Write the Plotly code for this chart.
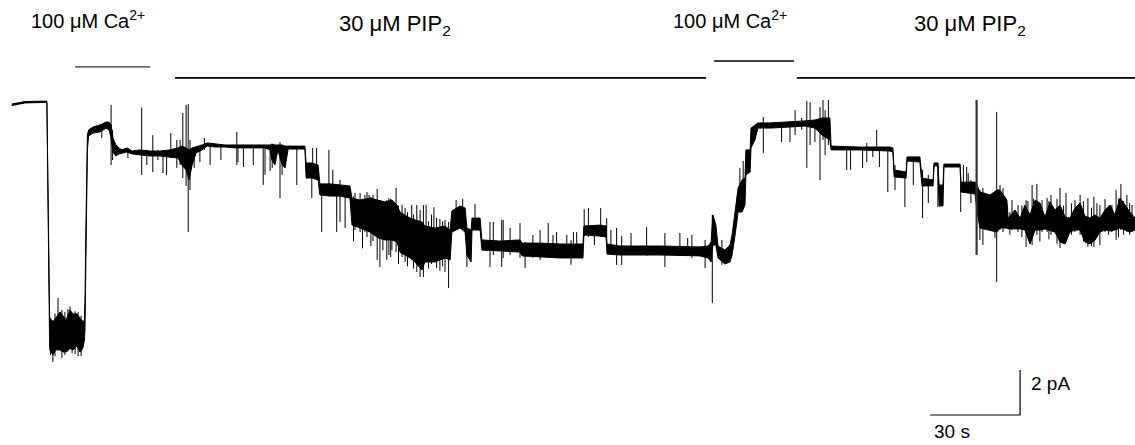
import plotly.graph_objects as go

# ---------------- data: current trace (time in s, current in pA) ----------------
# envelope of the recorded trace (upper / lower edge of the noisy band)
env_t = [0.6, 3.3, 5.0, 12.0, 12.3, 13.2, 13.3, 14.3, 15.3, 16.7, 17.7, 18.7, 20.0, 21.0, 22.3, 23.3,
         24.3, 24.8, 25.0, 25.3, 25.8, 26.2, 27.7, 30.0, 32.0, 33.0, 33.7, 34.3, 35.3, 36.3, 37.3, 39.0,
         40.7, 43.3, 46.7, 50.0, 53.3, 56.0, 57.3, 58.7, 59.7, 60.7, 62.0, 64.0, 65.7, 68.3, 71.7, 75.0,
         78.3, 85.0, 86.7, 87.3, 88.3, 89.3, 90.7, 91.7, 92.7, 98.3, 98.7, 100.7, 102.7, 103.3, 106.7,
         110.0, 113.3, 114.0, 116.7, 120.0, 122.7, 125.0, 127.3, 129.0, 130.0, 133.3, 135.0, 137.3,
         138.3, 141.7, 145.0, 146.7, 147.3, 150.0, 151.7, 152.3, 153.7, 154.0, 156.7, 157.3, 163.3,
         170.0, 170.7, 176.7, 183.3, 191.0, 191.3, 196.7, 198.7, 199.0, 203.3, 216.7, 230.0, 232.7,
         233.7, 234.3, 235.3, 236.0, 238.3, 240.0, 240.7, 241.7, 242.7, 244.0, 245.0, 245.3, 246.7,
         247.0, 248.3, 249.3, 253.3, 260.0, 265.0, 268.3, 270.7, 273.3, 273.7, 283.3, 293.3, 294.3,
         294.7, 298.7, 299.0, 303.3, 304.0, 307.7, 308.0, 309.3, 309.7, 311.0, 311.3, 316.7, 317.0,
         321.7, 322.3, 323.3, 326.7, 329.0, 330.0, 332.3, 332.7, 335.0, 336.7, 338.3, 340.0, 341.7,
         343.3, 345.0, 346.7, 348.3, 350.0, 351.7, 353.3, 355.0, 356.7, 358.3, 360.0, 361.7, 363.3,
         365.0, 366.7, 368.3, 370.0, 371.7, 373.3, 375.0]
env_hi = [-0.09, -0.02, 0.02, 0.04, 0.04, -9.47, -9.6, -9.78, -9.6, -9.33, -9.51, -9.69, -9.24, -9.42,
          -9.42, -9.6, -9.78, -9.69, -8.8, -5.6, -1.47, -1.24, -1.11, -1.02, -0.89, -0.89, -1.02, -1.6,
          -1.91, -2.04, -2.13, -2.04, -2.18, -2.13, -2.18, -2.18, -2.13, -2.04, -1.96, -2.04, -2.13,
          -2.04, -2.0, -1.91, -1.82, -1.87, -1.91, -1.91, -1.91, -1.91, -1.91, -1.87, -1.91, -1.91,
          -1.91, -1.96, -1.96, -1.96, -2.71, -2.71, -2.8, -3.64, -3.64, -3.69, -3.73, -4.27, -4.36,
          -4.27, -4.36, -4.44, -4.36, -4.58, -4.89, -5.16, -5.24, -5.33, -5.51, -5.6, -5.51, -5.69,
          -4.84, -4.62, -4.71, -5.6, -5.69, -5.16, -5.16, -6.13, -6.18, -6.13, -6.27, -6.27, -6.31,
          -6.31, -5.51, -5.47, -5.51, -6.31, -6.4, -6.4, -6.44, -6.4, -6.22, -5.02, -5.47, -6.4, -6.58,
          -6.36, -5.91, -4.89, -3.82, -3.47, -3.38, -2.13, -2.13, -1.16, -1.02, -0.93, -0.93, -0.89,
          -0.84, -0.8, -0.71, -0.71, -1.96, -2.0, -2.0, -2.04, -3.02, -3.11, -2.44, -2.44, -3.38,
          -3.47, -2.71, -2.71, -3.69, -3.69, -2.76, -2.76, -3.56, -3.56, -3.69, -4.0, -4.13, -3.91,
          -3.91, -4.36, -5.16, -4.8, -5.16, -4.58, -5.02, -4.36, -4.49, -5.11, -4.44, -4.8, -4.58,
          -5.11, -5.16, -4.71, -4.49, -5.07, -5.16, -5.02, -5.16, -4.8, -4.58, -5.02, -4.27, -4.58,
          -4.89, -5.16]
env_lo = [-0.16, -0.09, -0.04, -0.02, -0.04, -10.8, -11.02, -11.24, -11.02, -11.02, -11.11, -11.11,
          -10.93, -11.02, -10.84, -11.11, -10.93, -10.58, -10.13, -7.02, -2.13, -1.51, -1.38, -1.33,
          -1.16, -1.24, -1.6, -2.22, -2.4, -2.31, -2.27, -2.22, -2.31, -2.36, -2.4, -2.4, -2.44, -2.49,
          -2.8, -3.02, -3.47, -2.8, -2.27, -2.13, -1.96, -2.0, -2.0, -2.04, -2.04, -2.04, -2.13, -2.58,
          -2.8, -2.13, -2.8, -2.93, -2.09, -2.09, -3.38, -3.38, -3.47, -4.13, -4.18, -4.18, -4.27,
          -5.47, -5.6, -5.78, -6.04, -6.13, -6.13, -6.22, -6.67, -6.93, -7.11, -7.47, -7.11, -7.11,
          -6.93, -7.02, -5.78, -5.6, -5.78, -6.8, -7.11, -5.69, -5.69, -6.58, -6.62, -6.67, -6.84,
          -6.89, -6.93, -6.93, -5.91, -5.96, -6.0, -6.76, -6.8, -6.8, -6.84, -6.93, -7.11, -6.36,
          -6.36, -6.93, -7.2, -7.11, -6.8, -5.91, -4.89, -4.89, -4.58, -3.24, -3.11, -2.04, -1.69,
          -1.16, -1.16, -1.11, -1.07, -1.16, -1.47, -1.69, -2.13, -2.13, -2.18, -2.22, -3.33, -3.38,
          -2.62, -2.67, -3.73, -3.73, -2.84, -2.84, -4.62, -4.62, -2.89, -2.89, -4.0, -4.09, -4.8,
          -5.6, -5.69, -5.78, -5.6, -5.6, -5.64, -5.64, -5.64, -5.69, -6.31, -5.69, -5.69, -5.64,
          -5.73, -5.78, -6.22, -6.31, -5.78, -5.69, -5.69, -6.22, -6.31, -6.13, -5.78, -5.69, -5.73,
          -5.69, -5.6, -5.69, -5.78, -5.69]

# brief channel openings / closings (vertical excursions) on top of the band
spike_t = [13.5, 14.3, 15.0, 16.0, 17.3, 18.3, 19.3, 20.0, 20.7, 21.7, 22.7, 23.7, 24.0, 30.6, 33.7,
           34.2, 39.3, 43.9, 45.6, 47.6, 49.3, 51.0, 52.2, 53.6, 55.6, 56.7, 57.6, 58.7, 59.4, 60.0,
           61.4, 63.3, 64.8, 66.7, 70.3, 75.6, 76.0, 77.8, 81.1, 84.4, 85.0, 86.7, 87.4, 90.0, 90.7,
           95.6, 100.6, 100.9, 102.2, 103.9, 106.3, 107.6, 108.9, 110.0, 111.7, 114.5, 115.0, 116.7,
           117.5, 118.3, 119.0, 119.7, 120.3, 121.0, 122.4, 123.3, 124.3, 125.6, 126.3, 126.9, 127.3,
           128.7, 129.5, 130.7, 131.7, 132.5, 133.9, 134.5, 135.6, 136.7, 137.8, 138.7, 139.5, 140.5,
           141.3, 142.2, 143.3, 144.2, 145.0, 146.2, 148.7, 150.9, 152.3, 155.0, 160.0, 161.1, 163.9,
           164.4, 166.7, 170.0, 171.7, 174.3, 176.7, 179.4, 181.0, 182.2, 185.6, 187.0, 187.8, 188.9,
           191.4, 192.8, 194.8, 196.9, 198.9, 200.3, 202.2, 203.9, 207.0, 212.2, 218.3, 223.3, 225.9,
           227.3, 231.7, 234.1, 237.3, 243.3, 244.4, 251.1, 257.2, 260.0, 261.7, 263.9, 265.6, 266.7,
           268.3, 270.0, 271.0, 271.7, 272.8, 278.9, 280.2, 284.2, 285.6, 287.6, 288.9, 289.8, 292.6,
           295.0, 298.3, 301.1, 304.2, 306.1, 309.3, 316.9, 317.8, 318.9, 319.4, 320.3, 323.3, 324.3,
           328.3, 328.9, 330.0, 331.0, 333.3, 334.0, 336.0, 337.3, 338.7, 339.3, 340.7, 341.2, 342.3,
           343.3, 344.0, 345.7, 346.3, 347.0, 349.0, 350.0, 351.2, 352.0, 353.8, 355.0, 356.7, 357.8,
           359.3, 360.5, 361.3, 362.3, 363.3, 365.0, 366.2, 367.3, 368.7, 369.5, 370.3, 371.2, 372.3,
           373.2, 374.0]
spike_hi = [-9.6, -9.69, -9.4, -8.71, -9.24, -9.33, -9.2, -9.09, -9.42, -9.3, -9.33, -9.5, -9.69,
            -1.02, -0.13, -1.24, -2.04, -0.25, -2.13, -1.47, -2.13, -2.13, -2.13, -1.38, -1.69, -1.69,
            -0.49, -0.13, -0.09, -1.69, -2.0, -2.0, -1.6, -1.87, -1.87, -1.33, -1.91, -1.91, -1.91,
            -1.91, -2.04, -1.91, -1.91, -1.78, -1.91, -1.96, -2.71, -2.04, -2.04, -3.69, -2.13, -3.02,
            -3.69, -3.47, -3.69, -4.2, -4.04, -4.04, -4.3, -4.13, -4.0, -4.13, -4.22, -4.13, -3.87,
            -4.36, -4.58, -4.36, -4.27, -4.3, -4.49, -3.82, -4.6, -4.58, -4.71, -4.9, -4.58, -5.0,
            -4.58, -4.8, -4.58, -4.58, -5.3, -5.0, -4.67, -5.16, -5.2, -5.3, -5.24, -5.33, -4.36,
            -4.31, -5.6, -4.53, -5.33, -5.33, -5.24, -5.24, -5.6, -5.38, -6.22, -5.91, -5.69, -5.38,
            -5.91, -5.78, -5.91, -6.13, -5.78, -5.78, -4.76, -4.71, -5.51, -4.71, -5.16, -5.69, -5.6,
            -5.96, -5.82, -5.56, -5.82, -5.82, -6.04, -5.91, -6.13, -5.02, -6.13, -2.93, -2.62, -0.67,
            -1.02, -1.02, -0.36, -0.71, 0.04, 0.0, -0.8, -0.22, 0.09, -0.36, 0.09, -2.04, -2.04, -2.04,
            -1.82, -2.04, -1.24, -2.04, -2.04, -2.8, -3.11, -2.44, -3.02, -3.24, -2.71, -3.56, -2.8,
            -2.89, -3.16, -3.47, -3.91, -3.82, -4.13, -0.44, -3.69, -3.82, -4.9, -4.36, -4.58, -4.6,
            -4.36, -4.4, -3.69, -4.3, -3.64, -4.5, -4.36, -4.27, -4.4, -4.13, -4.3, -3.82, -4.6,
            -4.04, -4.5, -4.36, -4.13, -4.4, -4.27, -4.7, -4.22, -4.5, -4.58, -4.31, -4.6, -4.58,
            -3.91, -4.3, -3.64, -4.4, -4.13, -4.5, -4.58]
spike_lo = [-11.24, -11.56, -11.3, -10.8, -11.38, -11.24, -11.1, -11.02, -11.16, -11.2, -11.29,
            -11.3, -11.02, -1.6, -2.8, -2.58, -2.49, -3.24, -2.8, -3.11, -2.58, -3.16, -3.24, -2.49,
            -2.93, -2.8, -3.38, -3.73, -5.78, -3.91, -2.93, -2.67, -2.13, -2.8, -2.58, -2.8, -2.67,
            -2.89, -2.8, -3.69, -3.24, -3.07, -2.93, -4.27, -3.24, -3.69, -4.27, -3.38, -3.47, -5.78,
            -4.18, -4.18, -5.78, -5.33, -5.6, -6.2, -5.69, -5.78, -6.5, -5.78, -6.0, -5.69, -6.4,
            -6.18, -7.02, -7.33, -6.58, -7.02, -6.8, -6.9, -6.58, -6.67, -7.2, -6.89, -7.11, -7.3,
            -6.89, -7.4, -7.56, -7.78, -7.78, -6.8, -7.4, -7.2, -6.8, -7.38, -7.5, -7.3, -7.56, -8.27,
            -5.6, -5.69, -7.33, -5.6, -7.33, -6.8, -7.33, -6.93, -6.8, -6.93, -7.38, -6.93, -7.02,
            -6.93, -6.93, -6.93, -6.93, -7.24, -6.93, -6.93, -5.96, -6.0, -6.36, -6.0, -6.0, -6.76,
            -7.24, -7.24, -6.71, -6.84, -7.33, -6.84, -6.84, -6.93, -7.38, -8.93, -7.24, -4.89, -4.36,
            -2.27, -1.78, -1.78, -1.47, -1.24, -2.93, -1.91, -1.78, -3.47, -1.69, -2.36, -1.91, -3.02,
            -3.02, -2.93, -2.67, -2.44, -2.13, -2.89, -4.0, -3.91, -4.67, -3.69, -5.16, -4.49, -4.67,
            -4.89, -4.0, -4.0, -4.0, -4.49, -6.13, -6.36, -6.04, -8.0, -5.69, -5.78, -5.9, -5.69,
            -5.78, -6.0, -6.44, -5.8, -6.36, -5.9, -5.91, -6.2, -5.78, -5.78, -6.1, -5.91, -6.3,
            -6.49, -6.1, -6.22, -5.9, -5.78, -5.91, -6.2, -6.44, -6.4, -6.44, -6.0, -6.36, -5.78,
            -5.9, -5.78, -6.13, -6.0, -5.69, -5.9, -5.78, -5.9, -5.78]

# the large dotted excursion just before the second PIP2 response
burst_t = [322.2]
burst_hi = [0.09]
burst_lo = [-6.8]

# solution application bars
sol_labels = ["100 \u03bcM Ca<sup>2+</sup>", "30 \u03bcM PIP<sub>2</sub>",
              "100 \u03bcM Ca<sup>2+</sup>", "30 \u03bcM PIP<sub>2</sub>"]
sol_start = [21.7, 55.0, 234.7, 262.3]
sol_end = [46.7, 232.0, 261.3, 375.0]
sol_level = [1.56, 1.07, 1.82, 1.07]
label_t = [26.0, 128.3, 240.0, 320.0]
label_i = [3.68, 3.42, 3.68, 3.42]
label_size = [20, 22, 20, 22]

# scale bar: 30 s, 2 pA
scale_t0 = 306.7
scale_dt = 30.0
scale_i0 = -13.91
scale_di = 2.0

FONT = "Liberation Sans, Arial, Helvetica, sans-serif"

# ---------------- figure ----------------
fig = go.Figure()

# band envelope: lower edge, then upper edge filled down to it
fig.add_trace(go.Scatter(x=env_t, y=env_lo, mode="lines",
                         line=dict(color="black", width=1), hoverinfo="skip", showlegend=False))
fig.add_trace(go.Scatter(x=env_t, y=env_hi, mode="lines", fill="tonexty", fillcolor="black",
                         line=dict(color="black", width=1), hoverinfo="skip", showlegend=False))

# spikes as vertical segments
sx, sy = [], []
for t, hi, lo in zip(spike_t, spike_hi, spike_lo):
    sx += [t, t, None]
    sy += [hi, lo, None]
fig.add_trace(go.Scatter(x=sx, y=sy, mode="lines", line=dict(color="black", width=1),
                         hoverinfo="skip", showlegend=False))
bx, by = [], []
for t, hi, lo in zip(burst_t, burst_hi, burst_lo):
    bx += [t, t, None]
    by += [hi, lo, None]
fig.add_trace(go.Scatter(x=bx, y=by, mode="lines", line=dict(color="#333", width=2.2),
                         hoverinfo="skip", showlegend=False))

# solution bars and labels
for k, (lab, a, b, lv) in enumerate(zip(sol_labels, sol_start, sol_end, sol_level)):
    fig.add_trace(go.Scatter(x=[a, b], y=[lv, lv], mode="lines",
                             line=dict(color="#333" if k == 0 else "black", width=1.1 if k == 0 else 1.6),
                             hoverinfo="skip", showlegend=False))
    fig.add_annotation(x=label_t[k], y=label_i[k], text=lab, showarrow=False,
                       xanchor="center", yanchor="middle",
                       font=dict(family=FONT, size=label_size[k], color="black"))

# scale bar
fig.add_trace(go.Scatter(x=[scale_t0, scale_t0 + scale_dt, scale_t0 + scale_dt],
                         y=[scale_i0, scale_i0, scale_i0 + scale_di], mode="lines",
                         line=dict(color="black", width=1.2), hoverinfo="skip", showlegend=False))
fig.add_annotation(x=scale_t0 + scale_dt + 3.0, y=scale_i0 + 0.7 * scale_di, text="2 pA",
                   showarrow=False, xanchor="left", yanchor="middle",
                   font=dict(family=FONT, size=19, color="black"))
fig.add_annotation(x=scale_t0 + 0.6, y=scale_i0 - 0.72, text="30 s",
                   showarrow=False, xanchor="left", yanchor="middle",
                   font=dict(family=FONT, size=19, color="black"))

fig.update_layout(width=1135, height=445, margin=dict(l=0, r=0, t=0, b=0),
                  paper_bgcolor="white", plot_bgcolor="white", showlegend=False)
fig.update_xaxes(range=[-3.333, 375.0], visible=False, showgrid=False, zeroline=False)
fig.update_yaxes(range=[-15.244, 4.533], visible=False, showgrid=False, zeroline=False)

fig.write_html("out.html", config={"displayModeBar": False, "staticPlot": True},
               post_script="document.body.style.margin='0px';")
